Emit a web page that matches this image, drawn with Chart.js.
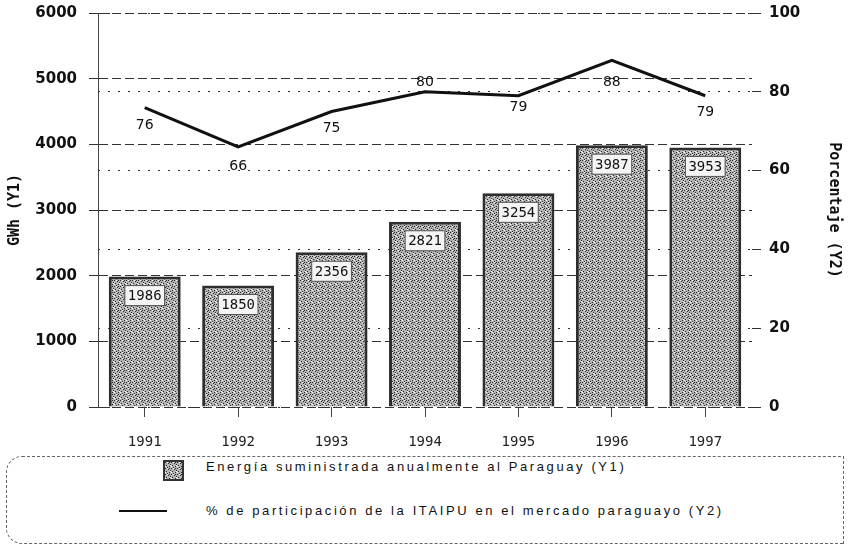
<!DOCTYPE html>
<html>
<head>
<meta charset="utf-8">
<script src="https://cdn.jsdelivr.net/npm/chart.js@4.4.1/dist/chart.umd.min.js"></script>
<style>
  body { margin:0; background:#fff; width:849px; height:550px; position:relative; overflow:hidden; font-family:"Liberation Sans", sans-serif; color:#111; }
  #wrap { position:absolute; left:0; top:-8px; width:849px; height:458px; }
  #legend { position:absolute; left:6px; top:456px; width:836px; height:86px; border:1px dashed #666; border-radius:16px 0 0 16px; }
  #legend .sw { position:absolute; left:156px; top:3px; width:17px; height:17px; border:2px solid #333; }
  #legend .ln { position:absolute; left:112px; top:53px; width:48px; height:0; border-top:2px solid #111; }
  #legend .tx { position:absolute; left:199px; font-size:13px; letter-spacing:2.6px; line-height:16px; }
</style>
</head>
<body>
<div id="wrap"><canvas id="chart" width="849" height="458"></canvas></div>
<div id="legend">
  <div class="sw" id="sw"></div>
  <div class="tx" style="top:2px">Energía suministrada anualmente al Paraguay (Y1)</div>
  <div class="ln"></div>
  <div class="tx" style="top:46px">% de participación de la ITAIPU en el mercado paraguayo (Y2)</div>
</div>
<script>
const years = ['1991', '1992', '1993', '1994', '1995', '1996', '1997'];
const energia = [1986, 1850, 2356, 2821, 3254, 3987, 3953];       // GWh (Y1)
const participacion = [76, 66, 75, 80, 79, 88, 79];               // % (Y2)
const y1Ticks = [0, 1000, 2000, 3000, 4000, 5000, 6000];
const y2Ticks = [0, 20, 40, 60, 80, 100];

// stippled grey fill like the scanned bars
function makePattern() {
  const c = document.createElement('canvas');
  c.width = 6; c.height = 6;
  const g = c.getContext('2d');
  g.fillStyle = '#b4b4b4';
  g.fillRect(0, 0, 6, 6);
  g.fillStyle = '#2a2a2a';
  [[0,0],[3,1],[1,3],[4,4],[2,5],[5,2],[4,0]].forEach(p => g.fillRect(p[0], p[1], 1, 1));
  g.fillStyle = '#ffffff';
  [[2,0],[5,3],[0,4]].forEach(p => g.fillRect(p[0], p[1], 1, 1));
  return c;
}
const patCanvas = makePattern();
const ctx = document.getElementById('chart').getContext('2d');
const pattern = ctx.createPattern(patCanvas, 'repeat');
document.getElementById('sw').style.background = 'url(' + patCanvas.toDataURL() + ')';

const valueLabels = {
  id: 'valueLabels',
  afterDatasetsDraw(chart) {
    const c = chart.ctx;
    c.save();
    // bar labels in small boxes near the bar top
    c.font = '14px "DejaVu Sans Mono", monospace';
    c.textAlign = 'center';
    c.textBaseline = 'middle';
    chart.getDatasetMeta(0).data.forEach((bar, i) => {
      const txt = String(energia[i]);
      const w = c.measureText(txt).width + 6;
      const cy = bar.y + 19;
      c.fillStyle = '#f4f4f4';
      c.fillRect(bar.x - w / 2, cy - 10, w, 20);
      c.strokeStyle = '#555';
      c.lineWidth = 1;
      c.strokeRect(bar.x - w / 2, cy - 10, w, 20);
      c.fillStyle = '#111';
      c.fillText(txt, bar.x, cy + 1);
    });
    // line labels
    const dy = [18, 19, 17, -9, 12, 22, 17];
    c.font = '14px "DejaVu Sans", sans-serif';
    chart.getDatasetMeta(1).data.forEach((pt, i) => {
      c.fillStyle = '#111';
      c.fillText(String(participacion[i]), pt.x, pt.y + dy[i]);
    });
    c.restore();
  }
};

new Chart(ctx, {
  data: {
    labels: years,
    datasets: [{
      type: 'bar',
      label: 'Energía suministrada anualmente al Paraguay (Y1)',
      data: energia,
      yAxisID: 'y',
      backgroundColor: pattern,
      borderColor: '#2e2e2e',
      borderWidth: 3,
      barPercentage: 0.77,
      categoryPercentage: 1,
      order: 2
    }, {
      type: 'line',
      label: '% de participación de la ITAIPU en el mercado paraguayo (Y2)',
      data: participacion,
      yAxisID: 'y2',
      borderColor: '#111',
      borderWidth: 3,
      pointRadius: 0,
      tension: 0,
      order: 1
    }]
  },
  options: {
    responsive: false,
    animation: false,
    layout: { padding: { top: 0, left: 6, right: 6, bottom: 0 } },
    plugins: { legend: { display: false }, tooltip: { enabled: false } },
    scales: {
      x: {
        grid: { display: true, drawOnChartArea: false, drawTicks: true, tickLength: 10, offset: false, color: '#444', lineWidth: 1 },
        border: { display: false },
        ticks: { color: '#222', padding: 17, font: { family: '"DejaVu Sans Mono", monospace', size: 14 } },
        afterFit: s => { s.height = 43; }
      },
      y: {
        position: 'left',
        min: 0, max: 6000,
        afterBuildTicks: s => { s.ticks = y1Ticks.map(v => ({ value: v })); },
        grid: { color: '#333', lineWidth: 1, tickLength: 9 },
        border: { display: true, color: '#444', width: 1, dash: [9, 4] },
        ticks: { color: '#111', padding: 12, callback: v => String(v), font: { family: '"DejaVu Sans", sans-serif', size: 15, weight: 'bold' } },
        title: { display: true, text: 'GWh (Y1)', color: '#111', padding: 0, font: { family: '"DejaVu Sans Mono", monospace', size: 15, weight: 'bold' } },
        afterFit: s => { s.width = 92; }
      },
      y2: {
        position: 'right',
        min: 0, max: 100,
        afterBuildTicks: s => { s.ticks = y2Ticks.map(v => ({ value: v })); },
        grid: { color: '#333', lineWidth: 1, tickLength: 9 },
        border: { display: false, dash: [2, 8] },
        ticks: { color: '#111', padding: 8, callback: v => String(v), font: { family: '"DejaVu Sans", sans-serif', size: 15, weight: 'bold' } },
        title: { display: true, text: 'Porcentaje (Y2)', color: '#111', padding: 0, font: { family: '"DejaVu Sans Mono", monospace', size: 15, weight: 'bold' } },
        afterFit: s => { s.width = 91; }
      }
    }
  },
  plugins: [valueLabels]
});
</script>
</body>
</html>
